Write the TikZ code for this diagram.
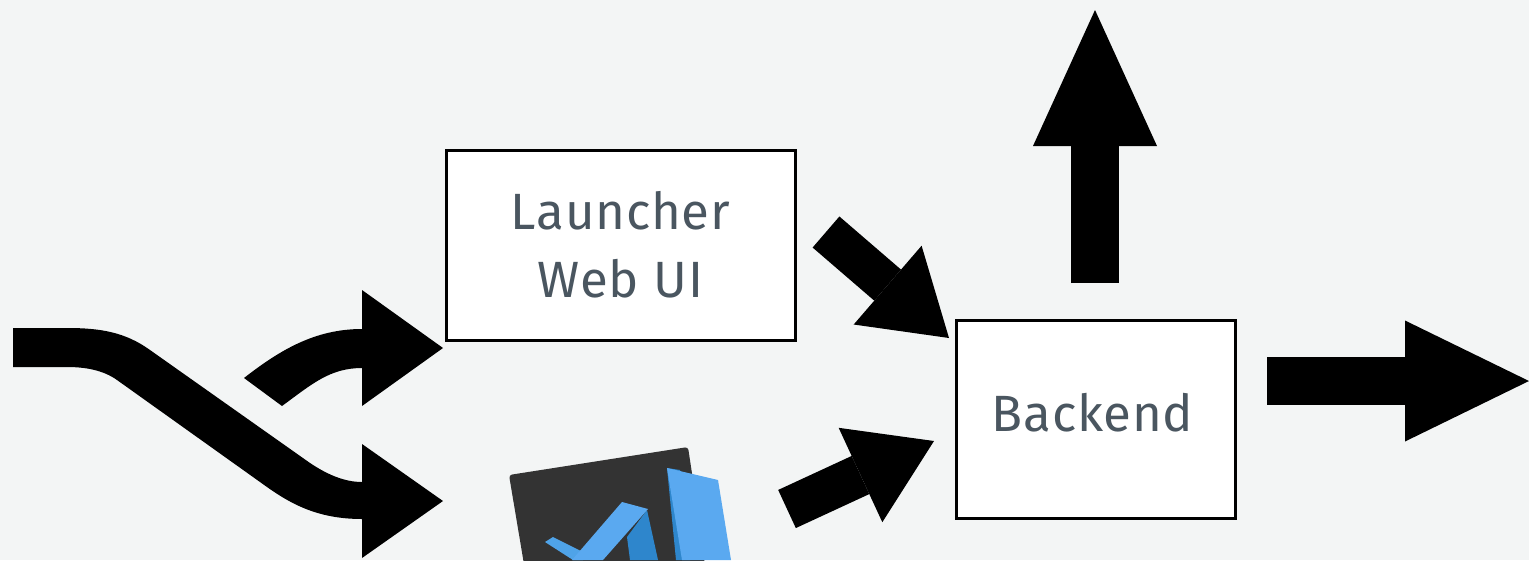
\documentclass[tikz,border=0pt]{standalone}
\usepackage{fontspec}
\setmainfont{Fira Sans}[LetterSpace=1.5]
\usetikzlibrary{arrows.meta}
\definecolor{bgc}{HTML}{F3F5F5}
\definecolor{txtc}{HTML}{4A5660}
\definecolor{icond}{HTML}{333333}
\definecolor{bluel}{HTML}{5AA9F0}
\definecolor{bluem}{HTML}{4FA3E8}
\definecolor{blued}{HTML}{2E86CC}
\tikzset{
  box/.style={draw=black,fill=white,line width=3pt,inner sep=0pt,align=center,text=txtc,font=\fontsize{51}{68}\selectfont},
  block/.style n args={3}{draw=black,line width=#1pt,line join=round,-{Triangle[length=#2pt,width=#3pt,line width=0pt]}},
  outline/.style={fill=black,draw=none}
}
\begin{document}
\begin{tikzpicture}[x=1pt,y=-1pt]
\useasboundingbox (0,0) rectangle (1529,560);
\fill[bgc] (0,0) rectangle (1529,560);
% icon
\begin{scope}
\clip (0,0) rectangle (1529,560);
\fill[icond,rounded corners=3pt] (509,475) -- (688,447) -- (693,480) -- (710,600) -- (530,600) -- cycle;
\fill[blued] (667,468) -- (676,560) -- (690,560) -- (680,470) -- cycle;
\fill[bluel] (667,468) -- (718,480) -- (731,560) -- (682,560) -- cycle;
\fill[blued] (647,510) -- (658,560) -- (630,560) -- (627,537) -- cycle;
\fill[bluem] (545,542) -- (553,537) -- (585,553) -- (583,560) -- (573,560) -- cycle;
\fill[bluel] (622,502) -- (648,509) -- (603,560) -- (572,560) -- cycle;
\end{scope}
% boxes
\node[box,minimum width=349pt,minimum height=190pt] (web) at (620.5,245) {Launcher\\Web UI};
\node[box,minimum width=279pt,minimum height=198pt,text height=38pt,text depth=14pt] (backend) at (1096,419.5) {Backend\hspace*{7pt}};
% free ends
\coordinate (webtip) at ([shift={(-1.5,6.5)}]web.south west);
\coordinate (vstip) at (443,501);
\coordinate (webout) at ([shift={(29.5,-109.5)}]web.south east);
\coordinate (beintop) at ([shift={(-6,19)}]backend.north west);
\coordinate (vsout) at (787,509);
\coordinate (beinlow) at ([shift={(-21,122)}]backend.north west);
\coordinate (upfrom) at ([shift={(-1,-36)}]backend.north);
\coordinate (uptip) at (1095,10);
\coordinate (rightfrom) at ([shift={(30,-139)}]backend.south east);
\coordinate (righttip) at (1529,381);
% connectors
\path[outline] (13,328) -- (67,328) .. controls (100,328) and (125,332) .. (150,350) -- (310,463) .. controls (328,475) and (345,482) .. (362,482) -- (362,444) -- (vstip) -- (362,558) -- (362,519) .. controls (320,519) and (293,505.5) .. (267,487) -- (117,380) .. controls (103,370) and (85,367) .. (67,367) -- (13,367) -- cycle;
\path[outline] (244,378) .. controls (280,350) and (315,329) .. (362,329) -- (362,290) -- (webtip) -- (362,406) -- (362,368) .. controls (330,368) and (312,384) .. (282,406) -- cycle;
\draw[block={41}{81}{104}] (webout) -- (beintop);
\draw[block={42}{81}{104}] (vsout) -- (beinlow);
\draw[block={48}{136}{124}] (upfrom) -- (uptip);
\draw[block={48}{124}{121}] (rightfrom) -- (righttip);
\end{tikzpicture}
\end{document}
